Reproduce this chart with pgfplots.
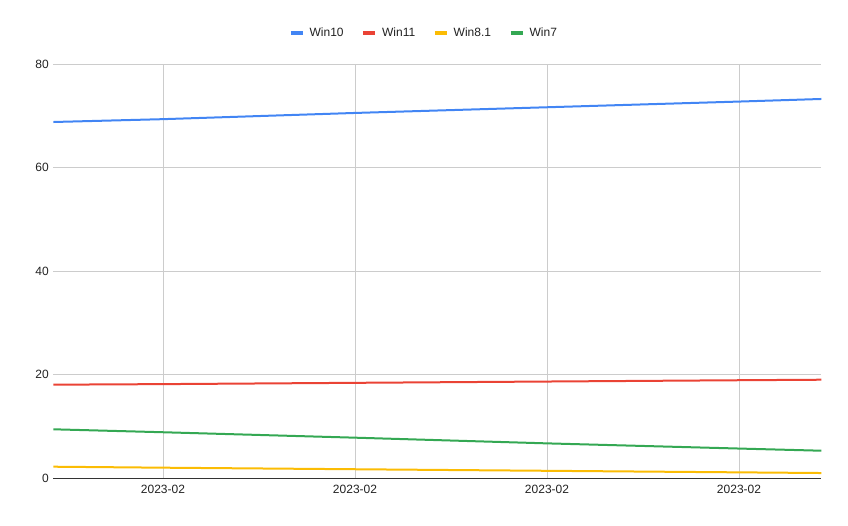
\documentclass[border=0pt]{standalone}
\usepackage{fontspec}
\setmainfont{Liberation Sans}
\usepackage{pgfplots}
\pgfplotsset{compat=1.18}

\definecolor{cwin10}{HTML}{4285F4}
\definecolor{cwin11}{HTML}{EA4335}
\definecolor{cwin81}{HTML}{FBBC04}
\definecolor{cwin7}{HTML}{34A853}
\definecolor{gridc}{HTML}{CCCCCC}
\definecolor{txt}{HTML}{222222}

\begin{document}
\begin{tikzpicture}
  \useasboundingbox (0,0) rectangle (848pt,525pt);
  \begin{axis}[
    at={(53.3pt,46.7pt)}, anchor=south west,
    scale only axis,
    width=768pt, height=414pt,
    xmin=0, xmax=768, ymin=0, ymax=80,
    xtick={109.7,301.7,493.7,685.7},
    xticklabels={2023-02,2023-02,2023-02,2023-02},
    ytick={0,20,40,60,80},
    grid=major,
    major grid style={gridc, line width=0.8pt},
    axis x line*=bottom,
    axis y line*=left,
    y axis line style={draw=none},
    x axis line style={draw=black!80, line width=0.9pt, -},
    xtick style={draw=none},
    ytick style={draw=none},
    tick label style={font=\fontsize{12}{14}\selectfont, text=txt},
    xticklabel style={yshift=-3pt},
    yticklabel style={xshift=-1pt},
    /pgf/number format/assume math mode=true,
    clip=false,
    legend columns=4,
    legend style={at={(0.4827,1.0756)}, anchor=center, draw=none,
      font=\fontsize{12}{14}\selectfont, text=txt,
      /tikz/every odd column/.append style={column sep=3pt},
      /tikz/every even column/.append style={column sep=16pt}},
    legend image code/.code={\draw[line width=3.5pt] (0pt,0pt) -- (12pt,0pt);},
  ]
    \addplot[cwin10, line width=2pt] coordinates {
      (0,68.85) (109.7,69.4) (301.7,70.6) (493.7,71.7) (685.7,72.8) (768,73.3)
    };
    \addlegendentry{Win10}
    \addplot[cwin11, line width=2pt] coordinates {
      (0,18.09) (109.7,18.2) (301.7,18.45) (493.7,18.7) (685.7,18.95) (768,19.05)
    };
    \addlegendentry{Win11}
    \addplot[cwin81, line width=2pt] coordinates {
      (0,2.24) (109.7,2.05) (301.7,1.75) (493.7,1.45) (685.7,1.15) (768,1.02)
    };
    \addlegendentry{Win8.1}
    \addplot[cwin7, line width=2pt] coordinates {
      (0,9.47) (109.7,8.9) (301.7,7.85) (493.7,6.75) (685.7,5.75) (768,5.33)
    };
    \addlegendentry{Win7}
  \end{axis}
\end{tikzpicture}
\end{document}
